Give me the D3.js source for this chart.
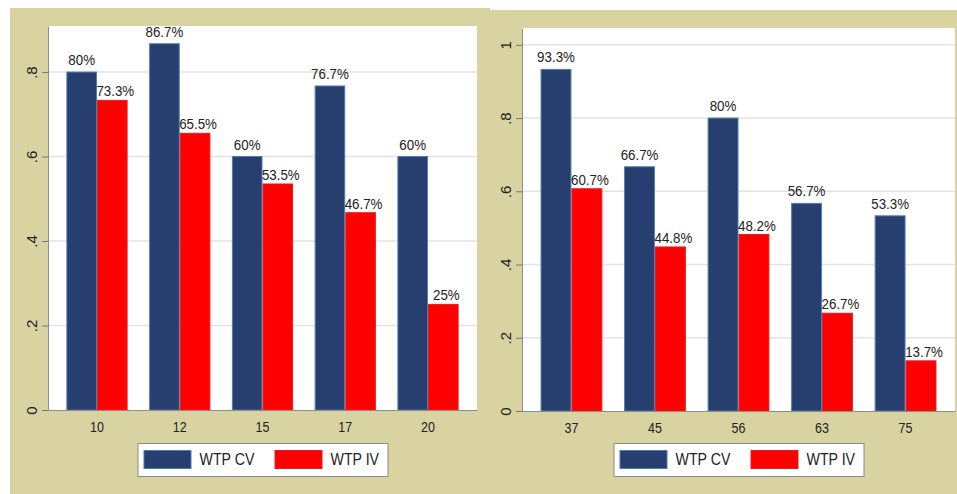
<!DOCTYPE html>
<html>
<head>
<meta charset="utf-8">
<script src="https://cdn.jsdelivr.net/npm/d3@7"></script>
<style>
  body { margin: 0; background: #fff; }
  svg { display: block; font-family: 'Liberation Sans', Arial, sans-serif; }
</style>
</head>
<body>
<div id="container"></div>
<script>
'use strict';

const w = 957;
const h = 494;

// Data.
const seriesNames = ['WTP CV', 'WTP IV'];
const leftCats = ['10', '12', '15', '17', '20'];
const leftCV = [0.80, 0.867, 0.60, 0.767, 0.60];
const leftIV = [0.733, 0.655, 0.535, 0.467, 0.25];
const leftTicks = [0, 0.2, 0.4, 0.6, 0.8];
const rightCats = ['37', '45', '56', '63', '75'];
const rightCV = [0.933, 0.667, 0.80, 0.567, 0.533];
const rightIV = [0.607, 0.448, 0.482, 0.267, 0.137];
const rightTicks = [0, 0.2, 0.4, 0.6, 0.8, 1];

const colors = ['#263f6e', '#ff0000'];
const strokes = ['#4f7db3', '#e02020'];
const beige = '#d8d3a1';
const ink = '#222';
const squish = 0.86;   // the source image is a bit narrow.

const svg = d3.select('#container')
    .append('svg')
    .attr('width', w)
    .attr('height', h);

function drawPanel(cfg) {
    const g = svg.append('g');

    // Beige graph region and white plot region.
    g.append('rect')
        .attr('x', cfg.bg[0]).attr('y', cfg.bg[1])
        .attr('width', cfg.bg[2] - cfg.bg[0]).attr('height', cfg.bg[3] - cfg.bg[1])
        .attr('fill', beige);
    g.append('rect')
        .attr('x', cfg.plot[0]).attr('y', cfg.plot[1])
        .attr('width', cfg.plot[2] - cfg.plot[0]).attr('height', cfg.plot[3] - cfg.plot[1])
        .attr('fill', '#fff');

    const x = d3.scaleBand()
        .domain(cfg.cats)
        .range([cfg.plot[0], cfg.plot[2]])
        .paddingInner(0.26)
        .paddingOuter(0.222);
    const xs = d3.scaleBand()
        .domain(seriesNames)
        .range([0, x.bandwidth()]);
    const y = d3.scaleLinear()
        .domain([0, cfg.yMax])
        .range([cfg.plot[3], cfg.plot[1]]);

    // Grid lines.
    g.selectAll('.grid')
        .data(cfg.ticks.filter(t => t > 0))
        .enter()
        .append('line')
        .attr('x1', cfg.plot[0]).attr('x2', cfg.plot[2])
        .attr('y1', d => y(d)).attr('y2', d => y(d))
        .attr('stroke', '#e3e3e3')
        .attr('stroke-width', 1.5);

    // Bars.
    const rows = cfg.cats.map((c, i) => ({ cat: c, vals: [cfg.cv[i], cfg.iv[i]] }));
    const groups = g.selectAll('.grp')
        .data(rows)
        .enter()
        .append('g')
        .attr('transform', d => 'translate(' + x(d.cat) + ',0)');

    const cells = groups.selectAll('g')
        .data(d => d.vals.map((v, k) => ({ name: seriesNames[k], k: k, v: v })))
        .enter()
        .append('g');

    cells.append('rect')
        .attr('x', d => xs(d.name) + 0.5)
        .attr('y', d => y(d.v))
        .attr('width', xs.bandwidth() - 1)
        .attr('height', d => y(0) - y(d.v))
        .attr('fill', d => colors[d.k])
        .attr('stroke', d => strokes[d.k])
        .attr('stroke-width', 1);

    cells.append('text')
        .attr('transform', d => 'translate(' + (xs(d.name) + xs.bandwidth() / 2 + (d.k ? 3 : 0)) + ',' +
            (y(d.v) - (d.k ? 4 : 7)) + ') scale(' + squish + ',1)')
        .attr('text-anchor', 'middle')
        .attr('fill', ink)
        .style('font-size', '15.5px')
        .text(d => +(d.v * 100).toFixed(1) + '%');

    // Axes.
    const yAxis = d3.axisLeft(y)
        .tickValues(cfg.ticks)
        .tickFormat(d => String(d).replace(/^0\./, '.'))
        .tickSize(6)
        .tickSizeOuter(0);
    const ya = g.append('g')
        .attr('transform', 'translate(' + cfg.plot[0] + ',0)')
        .call(yAxis);
    ya.select('.domain').attr('stroke', '#8c8c8c');
    ya.selectAll('.tick line').attr('stroke', '#777');
    ya.selectAll('.tick text')
        .attr('x', null).attr('dy', null)
        .attr('transform', 'translate(-11,0) rotate(-90)')
        .attr('text-anchor', 'middle')
        .attr('fill', ink)
        .style('font-size', '15px');

    const xAxis = d3.axisBottom(x)
        .tickSize(0)
        .tickPadding(12);
    const xa = g.append('g')
        .attr('transform', 'translate(0,' + cfg.plot[3] + ')')
        .call(xAxis);
    xa.select('.domain').attr('stroke', '#8c8c8c');
    xa.selectAll('.tick text')
        .attr('transform', 'scale(' + squish + ',1)')
        .attr('fill', ink)
        .style('font-size', '14.5px');

    // Legend.
    const lw = 250;
    const lx = (cfg.plot[0] + cfg.plot[2]) / 2 - lw / 2;
    const legend = g.append('g')
        .attr('transform', 'translate(' + lx + ',443)');
    legend.append('rect')
        .attr('x', 0.5).attr('y', 0.5)
        .attr('width', lw).attr('height', 33)
        .attr('fill', '#fff')
        .attr('stroke', '#8a8a8a');
    seriesNames.forEach((name, k) => {
        const ox = k === 0 ? 6 : 137;
        legend.append('rect')
            .attr('x', ox + 0.5).attr('y', 7.5)
            .attr('width', 47).attr('height', 18)
            .attr('fill', colors[k])
            .attr('stroke', strokes[k]);
        legend.append('text')
            .attr('transform', 'translate(' + (ox + 56) + ',22) scale(' + squish + ',1)')
            .attr('fill', ink)
            .style('font-size', '16.5px')
            .text(name);
    });
}

drawPanel({
    bg: [10, 8, 490, 494],
    plot: [48, 26, 477, 410],
    yMax: 0.909,
    cats: leftCats, cv: leftCV, iv: leftIV, ticks: leftTicks
});

drawPanel({
    bg: [480, 10, 957, 494],
    plot: [522, 28, 955, 411],
    yMax: 1.046,
    cats: rightCats, cv: rightCV, iv: rightIV, ticks: rightTicks
});
</script>
</body>
</html>
